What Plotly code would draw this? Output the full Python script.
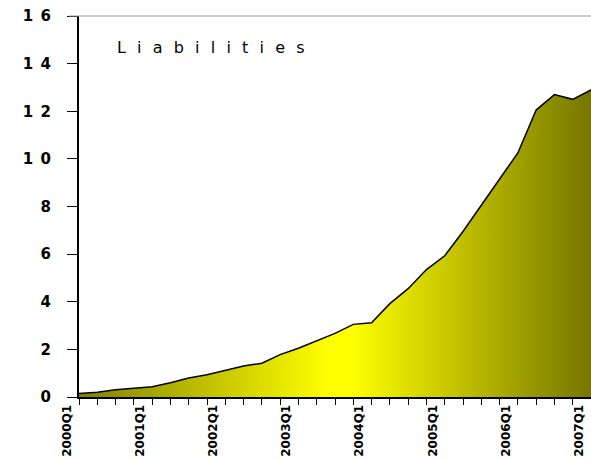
import plotly.graph_objects as go

# quarterly series, 2000Q1 .. 2007Q1
quarters = [f"{y}Q{q}" for y in range(2000, 2008) for q in range(1, 5)][:29]
liabilities = [
    0.15, 0.2, 0.3, 0.38, 0.43, 0.6, 0.8, 0.93, 1.1, 1.3,
    1.42, 1.78, 2.05, 2.35, 2.67, 3.05, 3.12, 3.92, 4.55, 5.35,
    5.93, 6.95, 8.05, 9.2, 10.25, 12.05, 12.7, 12.5, 12.9,
]
y_ticks = [0, 2, 4, 6, 8, 10, 12, 14, 16]

x_idx = list(range(len(quarters)))
label_idx = [i for i, q in enumerate(quarters) if q.endswith("Q1")]

fig = go.Figure()
fig.add_trace(go.Scatter(
    x=x_idx,
    y=liabilities,
    mode='lines',
    line=dict(color='black', width=1.5),
    fill='tozeroy',
    fillgradient=dict(
        type='horizontal',
        colorscale=[
            [0.0, '#808000'],
            [0.49, '#ffff00'],
            [0.53, '#ffff00'],
            [1.0, '#767600'],
        ],
    ),
    hoverinfo='skip',
))

# wide, spaced-out label like the original
fig.add_annotation(
    x=0.07, y=0.917, xref='paper', yref='paper',
    xanchor='left', yanchor='middle',
    text="\u2002\u2009".join("Liabilities"),
    showarrow=False,
    font=dict(family='DejaVu Sans', size=16, color='black'),
)

# thin grey top border of the plot area
fig.add_shape(type='line', xref='paper', yref='paper',
              x0=-0.02, x1=1, y0=1, y1=1,
              line=dict(color='#999999', width=1))

fig.update_layout(
    width=591,
    height=459,
    margin=dict(l=79, r=0, t=16, b=62),
    paper_bgcolor='white',
    plot_bgcolor='white',
    showlegend=False,
    font=dict(family='DejaVu Sans', color='black'),
    xaxis=dict(
        range=[0, 28],
        tickmode='array',
        tickvals=label_idx,
        ticktext=[quarters[i] for i in label_idx],
        tickangle=-90,
        ticks='outside',
        ticklen=6,
        tickcolor='black',
        ticklabelshift=-12,
        ticklabelstandoff=-5,
        tickfont=dict(family='DejaVu Sans', size=12, weight='bold'),
        minor=dict(tickmode='linear', tick0=0, dtick=1, ticks='outside',
                   ticklen=6, tickcolor='black'),
        showline=True,
        linecolor='black',
        linewidth=2,
        showgrid=False,
        zeroline=False,
        automargin=False,
    ),
    yaxis=dict(
        range=[0, 16],
        tickmode='array',
        tickvals=y_ticks,
        ticktext=["\u2002".join(str(v)) for v in y_ticks],
        ticks='outside',
        ticklen=10,
        tickcolor='black',
        ticklabelstandoff=13,
        ticklabeloverflow='allow',
        tickfont=dict(family='DejaVu Sans', size=15, weight='bold'),
        showline=True,
        linecolor='black',
        linewidth=2,
        showgrid=False,
        zeroline=False,
        automargin=False,
    ),
)

# drop the default page margin so the figure fills the window exactly
fig.write_html("out.html", config={'displayModeBar': False},
               post_script="document.body.style.margin='0';")
